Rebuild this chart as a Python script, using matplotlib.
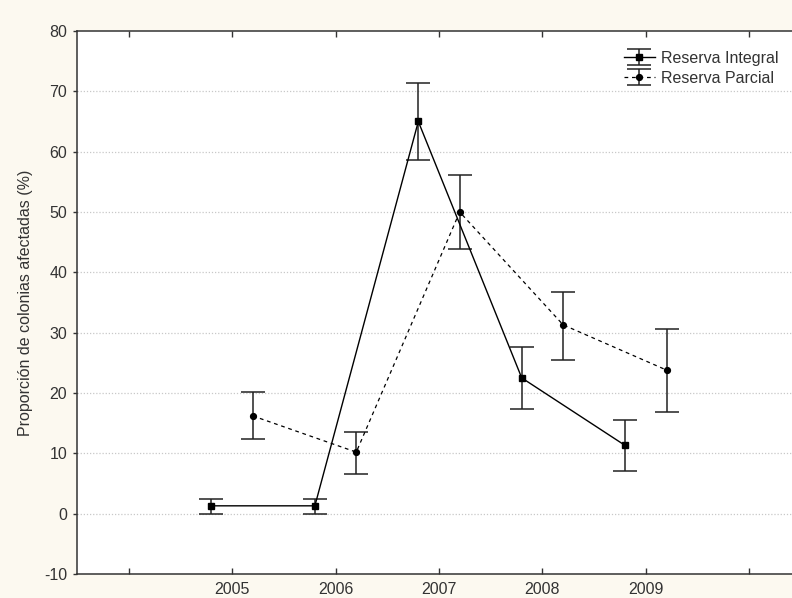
import matplotlib
matplotlib.use("Agg")
import matplotlib.pyplot as plt
import numpy as np

years = ["2005", "2006", "2007", "2008", "2009"]
integral = [1.3, 1.3, 65.0, 22.5, 11.3]
integral_lo = [0.0, 0.0, 58.6, 17.3, 7.0]
integral_hi = [2.5, 2.5, 71.3, 27.7, 15.5]
parcial = [16.2, 10.2, 50.0, 31.3, 23.8]
parcial_lo = [12.3, 6.5, 43.8, 25.5, 16.8]
parcial_hi = [20.2, 13.5, 56.2, 36.8, 30.6]

plt.rcParams['font.family'] = ['Liberation Sans', 'DejaVu Sans']
plt.rcParams['axes.unicode_minus'] = False

fs = 11.5
bg = '#FCF9F0'
fig = plt.figure(figsize=(7.92, 5.98), dpi=100, facecolor=bg)
ax = fig.add_axes([77/792, 24/598, (801-77)/792, (574-31)/598])
ax.set_facecolor('white')

x = np.arange(1, len(years) + 1)
off = 0.2
ilo = np.array(integral) - np.array(integral_lo)
ihi = np.array(integral_hi) - np.array(integral)
plo = np.array(parcial) - np.array(parcial_lo)
phi = np.array(parcial_hi) - np.array(parcial)

ax.errorbar(x - off, integral, yerr=[ilo, ihi], fmt='-s', color='black',
            ecolor='#222222', elinewidth=1.1, capsize=8.3, capthick=1.1,
            lw=1.0, ms=4.2, label='Reserva Integral')
ax.errorbar(x + off, parcial, yerr=[plo, phi], fmt='--o', color='black',
            ecolor='#222222', elinewidth=1.1, capsize=8.3, capthick=1.1,
            lw=0.9, ms=4.2, dashes=(3, 3), label='Reserva Parcial')

ax.set_xlim(-0.5, 6.5)
ax.set_ylim(-10, 80)
ax.set_xticks(np.arange(0, 7))
ax.set_xticklabels([''] + years + [''])
ax.set_yticks(np.arange(-10, 81, 10))
ax.tick_params(axis='x', direction='in', top=True, length=4, width=1,
               colors='#333333', labelsize=fs, pad=6)
ax.tick_params(axis='y', direction='out', length=3, width=1,
               colors='#333333', labelsize=fs, pad=4)
for t in ax.get_xticklabels() + ax.get_yticklabels():
    t.set_color('#333333')

for yv in range(0, 80, 10):
    ax.axhline(yv, color='#C8C8C8', lw=0.9, ls=(0, (1, 1.5)), zorder=0)

for s in ['left', 'top', 'bottom']:
    ax.spines[s].set_color('#333333')
    ax.spines[s].set_linewidth(1.1)
ax.spines['right'].set_visible(False)

ax.set_ylabel('Proporción de colonias afectadas (%)', fontsize=fs,
              color='#333333', labelpad=8)

leg = ax.legend(loc='upper left', bbox_to_anchor=((613-77)/724, 0.984),
                frameon=False, fontsize=fs, handlelength=1.9,
                handletextpad=0.4, labelspacing=0.3, borderpad=0.2)
for t in leg.get_texts():
    t.set_color('#333333')

fig.savefig('out.png', dpi=100, facecolor=bg)
